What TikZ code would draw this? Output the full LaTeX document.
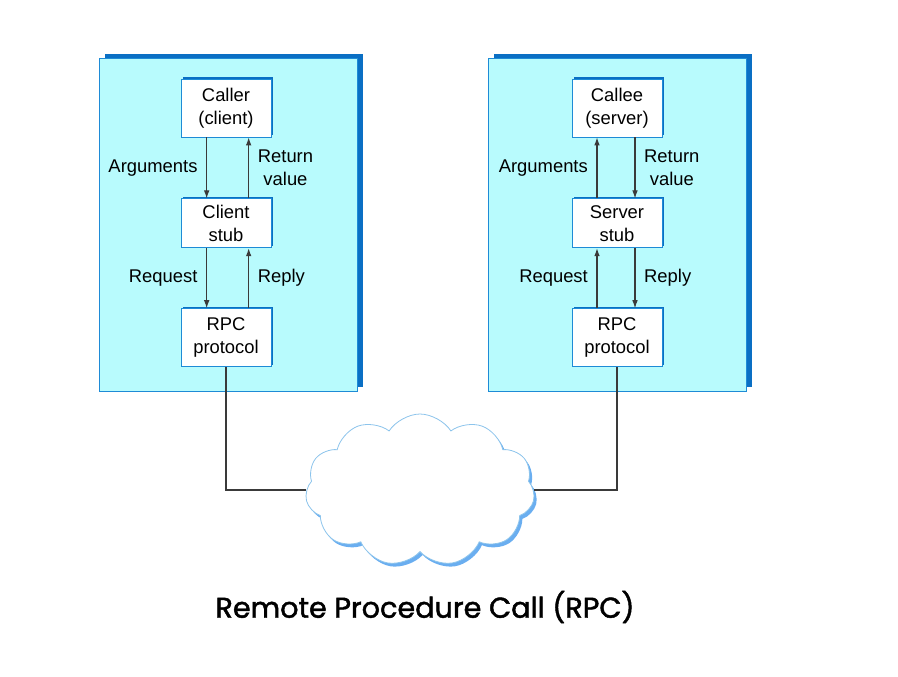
\documentclass[tikz,border=0pt]{standalone}
\usepackage{fontspec}
\setmainfont{Liberation Sans}
\newfontfamily\titlefont[FakeBold=1.6]{Poppins}
\usepackage{tikz}
\usetikzlibrary{positioning}
\usetikzlibrary{arrows.meta}
\usetikzlibrary{shapes.symbols}
\usetikzlibrary{shadows}
\definecolor{panelfill}{HTML}{B8FBFD}
\definecolor{paneledge}{HTML}{1E8BD6}
\definecolor{shadeblue}{HTML}{0A6FC4}
\definecolor{cloudedge}{HTML}{8CC4EC}
\definecolor{cloudshade}{HTML}{6AAEF0}
\definecolor{wirecol}{HTML}{3A3A3A}

\begin{document}
\begin{tikzpicture}[x=0.75pt,y=-0.75pt]
		\tikzset{edge/.style = {->,> = {Latex[length=6pt,width=4.2pt]},draw=wirecol,line width=0.8pt}}
		\tikzset{wire/.style = {draw=wirecol,line width=0.8pt}}
		\tikzset{panel/.style = {draw=paneledge,fill=panelfill,line width=0.6pt,
				minimum width=193.5pt,minimum height=249.75pt,
				drop shadow={shadow xshift=4pt,shadow yshift=3pt,fill=shadeblue,opacity=1}}}
		\tikzset{stage/.style = {draw=paneledge,fill=white,line width=0.6pt,
				minimum width=67.5pt,minimum height=43.5pt,align=center,
				font=\fontsize{13.8}{17.2}\selectfont,
				drop shadow={shadow xshift=1.8pt,shadow yshift=1.5pt,fill=shadeblue,opacity=1}}}
		\tikzset{stub/.style = {stage,minimum height=36.75pt}}
		\tikzset{lbl/.style = {inner sep=0pt,align=center,font=\fontsize{13.8}{17}\selectfont}}
		\useasboundingbox (0,0) rectangle (898,676);
		% the two machines
		\node[panel] (clientbox) at (228.5,224.5) {};
		\node[panel] (serverbox) at (617.5,224.5) {};
		% client side
		\node[stage] (caller) at (226,108) {Caller\\(client)};
		\node[stub,below=45.75pt of caller] (cstub) {Client\\stub};
		\node[stage,below=45pt of cstub] (crpc) {RPC\\protocol};
		\draw[edge] ([xshift=-14.5pt]caller.south) -- node[lbl,left=6.5pt] {Arguments} ([xshift=-14.5pt]cstub.north);
		\draw[edge] ([xshift=17pt]cstub.north) -- node[lbl,right=6.5pt] {Return\\value} ([xshift=17pt]caller.south);
		\draw[edge] ([xshift=-14.5pt]cstub.south) -- node[lbl,left=6.5pt] {Request} ([xshift=-14.5pt]crpc.north);
		\draw[edge] ([xshift=17pt]crpc.north) -- node[lbl,right=6.5pt] {Reply} ([xshift=17pt]cstub.south);
		% server side
		\node[stage] (callee) at (617,108) {Callee\\(server)};
		\node[stub,below=45.75pt of callee] (sstub) {Server\\stub};
		\node[stage,below=45pt of sstub] (srpc) {RPC\\protocol};
		\draw[edge] ([xshift=-15pt]sstub.north) -- node[lbl,left=6.5pt] {Arguments} ([xshift=-15pt]callee.south);
		\draw[edge] ([xshift=13.5pt]callee.south) -- node[lbl,right=6.5pt] {Return\\value} ([xshift=13.5pt]sstub.north);
		\draw[edge] ([xshift=-15pt]srpc.north) -- node[lbl,left=6.5pt] {Request} ([xshift=-15pt]sstub.south);
		\draw[edge] ([xshift=13.5pt]sstub.south) -- node[lbl,right=6.5pt] {Reply} ([xshift=13.5pt]srpc.north);
		% network
		\node[cloud,cloud puffs=11,cloud puff arc=115,aspect=1.5,draw=cloudedge,fill=white,line width=0.6pt,
			minimum width=172pt,minimum height=114pt,
			drop shadow={shadow xshift=2pt,shadow yshift=-2.5pt,fill=cloudshade,opacity=1}] (net) at (420,490) {};
		\draw[wire] (crpc.south) |- (net.west);
		\draw[wire] (srpc.south) |- (net.east);
		\node[font=\titlefont\fontsize{21.5}{26}\selectfont] (title) at (425,607) {Remote Procedure Call (RPC)};
	\end{tikzpicture}
\end{document}
